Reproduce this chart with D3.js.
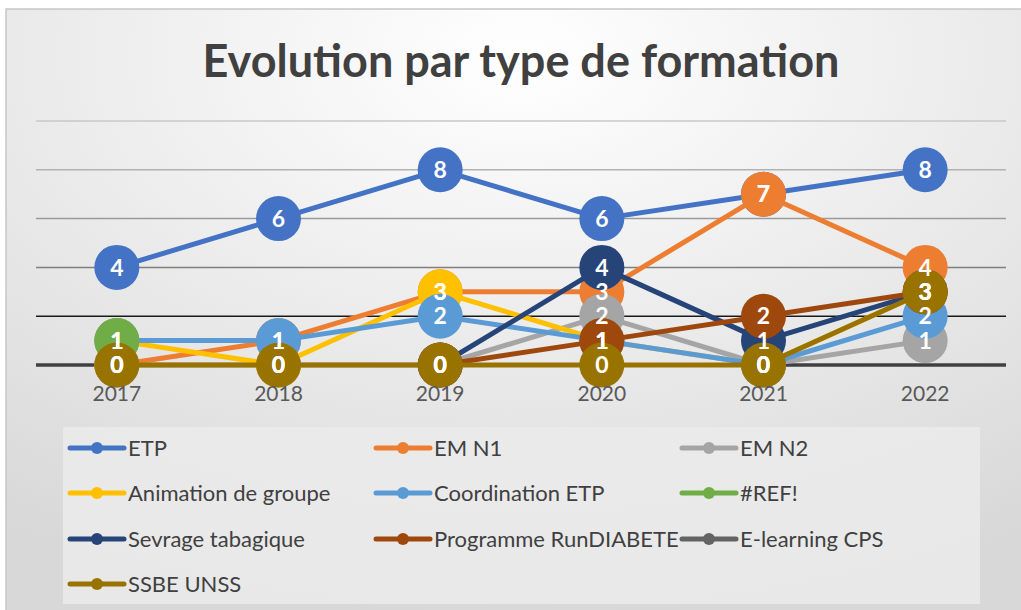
<!DOCTYPE html>
<html>
<head>
<meta charset="utf-8">
<script src="https://cdn.jsdelivr.net/npm/d3@7"></script>
<style>
  body { margin: 0; background: #fff; }
  svg { display: block; font-family: Lato, "Open Sans", sans-serif; }
</style>
</head>
<body>
<svg id="chart" width="1021" height="610"></svg>
<script>
// chart values
var years = ["2017", "2018", "2019", "2020", "2021", "2022"];
var seriesNames = ["ETP", "EM N1", "EM N2", "Animation de groupe", "Coordination ETP",
  "#REF!", "Sevrage tabagique", "Programme RunDIABETE", "E-learning CPS", "SSBE UNSS"];
var etp = [4, 6, 8, 6, 7, 8];
var emN1 = [0, 1, 3, 3, 7, 4];
var emN2 = [0, 0, 0, 2, 0, 1];
var animation = [1, 0, 3, 1, 0, 3];
var coordination = [1, 1, 2, 1, 0, 2];
var ref = [1, null, null, null, null, null];
var sevrage = [null, null, 0, 4, 1, 3];
var runDiabete = [null, null, 0, 1, 2, 3];
var elearning = [null, null, null, null, null, null];
var ssbe = [0, 0, 0, 0, 0, 3];
var yTicks = [0, 2, 4, 6, 8, 10];

var allValues = [etp, emN1, emN2, animation, coordination, ref, sevrage, runDiabete, elearning, ssbe];
var colors = ["#4472C4", "#ED7D31", "#A5A5A5", "#FFC000", "#5B9BD5",
  "#70AD47", "#264478", "#9E480E", "#636363", "#997300"];

var series = seriesNames.map(function(name, i) {
  return { name: name, color: colors[i],
    values: allValues[i].map(function(v, j) { return { year: years[j], value: v }; }) };
});

var svg = d3.select("#chart");

// background gradient like the office chart area
var defs = svg.append("defs");
var grad = defs.append("radialGradient").attr("id", "bg")
  .attr("cx", "50%").attr("cy", "8%").attr("r", "90%");
grad.append("stop").attr("offset", "0%").attr("stop-color", "#ffffff");
grad.append("stop").attr("offset", "100%").attr("stop-color", "#d8d8d8");

svg.append("rect")
  .attr("x", 6).attr("y", 9).attr("width", 1030).attr("height", 620)
  .attr("fill", "url(#bg)").attr("stroke", "#c6c6c6").attr("stroke-width", 1.5);

svg.append("text")
  .attr("x", 521).attr("y", 77)
  .attr("text-anchor", "middle")
  .style("font-size", "45px").style("font-weight", "bold")
  .style("fill", "#404040")
  .text("Evolution par type de formation");

var x = d3.scaleBand().domain(years).range([36, 1006]);
var y = d3.scaleLinear().domain([0, 10]).range([365, 121]);

// gridlines, darker toward the bottom
var gridColors = ["#404040", "#1a1a1a", "#7f7f7f", "#9a9a9a", "#b2b2b2", "#c9c9c9"];
svg.append("g").selectAll("line").data(yTicks).enter().append("line")
  .attr("x1", 36).attr("x2", 1006)
  .attr("y1", function(d) { return y(d); })
  .attr("y2", function(d) { return y(d); })
  .attr("stroke", function(d, i) { return gridColors[i]; })
  .attr("stroke-width", function(d) { return d === 0 ? 3.5 : 1.5; });

var cx = function(d) { return x(d.year) + x.bandwidth() / 2; };
var line = d3.line()
  .defined(function(d) { return d.value !== null; })
  .x(cx).y(function(d) { return y(d.value); });

var plot = svg.append("g");
series.forEach(function(s) {
  var g = plot.append("g");
  g.append("path").datum(s.values)
    .attr("d", line).attr("fill", "none")
    .attr("stroke", s.color).attr("stroke-width", 5)
    .attr("stroke-linejoin", "round");
  g.selectAll("circle")
    .data(s.values.filter(function(d) { return d.value !== null; }))
    .enter().append("circle")
    .attr("cx", cx).attr("cy", function(d) { return y(d.value); })
    .attr("r", 22.5).attr("fill", s.color);
});

var xAxis = svg.append("g")
  .attr("transform", "translate(0,386)")
  .call(d3.axisBottom(x).tickSize(0).tickPadding(0));
xAxis.select(".domain").remove();
xAxis.selectAll("text")
  .attr("dy", "0.71em")
  .style("font-family", "Lato, 'Open Sans', sans-serif")
  .style("font-size", "21px").style("fill", "#595959");

// data labels sit above every series
var labels = svg.append("g");
series.forEach(function(s) {
  labels.selectAll(null)
    .data(s.values.filter(function(d) { return d.value !== null; }))
    .enter().append("text")
    .attr("x", cx).attr("y", function(d) { return y(d.value); })
    .attr("dy", "0.36em").attr("text-anchor", "middle")
    .style("font-size", "23px").style("font-weight", "bold").style("fill", "#fff")
    .text(function(d) { return d.value; });
});

// legend
var legend = svg.append("g");
legend.append("rect")
  .attr("x", 63).attr("y", 427).attr("width", 917).attr("height", 177)
  .attr("fill", "#ebebeb").attr("opacity", 0.85);

var colX = [68, 374, 680];
var rowY = [448, 493, 539, 584];
var item = legend.selectAll("g.item").data(series).enter().append("g")
  .attr("class", "item")
  .attr("transform", function(d, i) {
    return "translate(" + colX[i % 3] + "," + rowY[Math.floor(i / 3)] + ")";
  });
item.append("line")
  .attr("x1", 2).attr("x2", 56)
  .attr("stroke", function(d) { return d.color; })
  .attr("stroke-width", 5).attr("stroke-linecap", "round");
item.append("circle")
  .attr("cx", 29).attr("r", 6)
  .attr("fill", function(d) { return d.color; });
item.append("text")
  .attr("x", 60).attr("dy", "0.36em")
  .style("font-size", "22px").style("fill", "#404040")
  .text(function(d) { return d.name; });
</script>
</body>
</html>
